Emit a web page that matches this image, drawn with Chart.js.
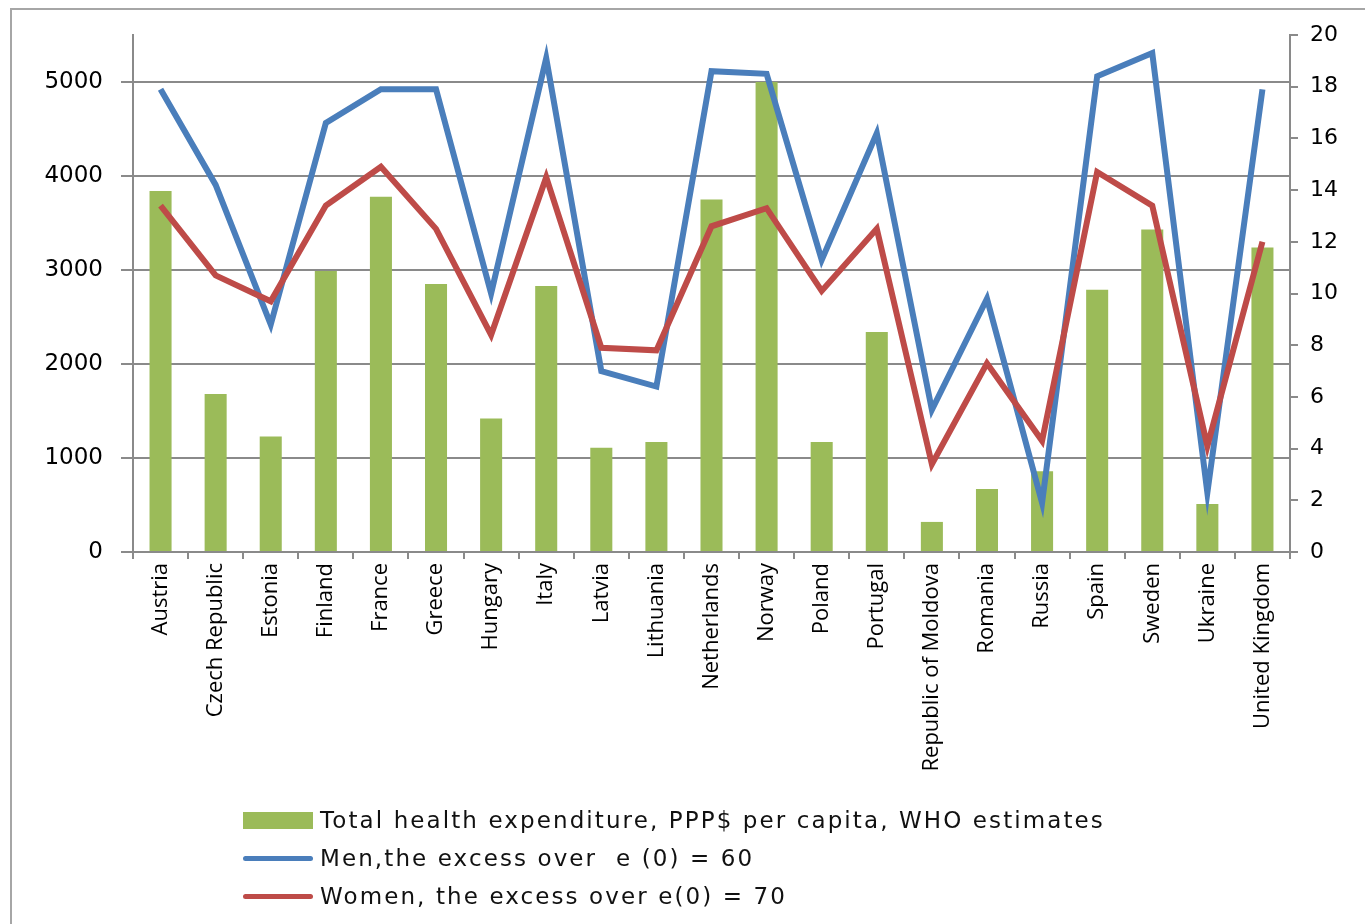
<!DOCTYPE html>
<html>
<head>
<meta charset="utf-8">
<script src="https://cdn.jsdelivr.net/npm/chart.js@4/dist/chart.umd.min.js"></script>
<style>
  html, body { margin: 0; padding: 0; background: #fff; }
  #frame { position: absolute; left: 10px; top: 8px; width: 1400px; height: 1000px; border: 2px solid #a6a6a6; box-sizing: border-box; }
  #wrap { position: absolute; left: 0; top: 0; width: 1365px; height: 924px; }
  #legend { position: absolute; left: 243px; top: 801px; font-family: "DejaVu Sans", sans-serif; font-size: 23px; letter-spacing: 2.1px; color: #111; }
  .item { display: flex; align-items: center; height: 38px; }
  .sw { width: 70px; margin-right: 7px; }
</style>
</head>
<body>
<div id="frame"></div>
<div id="wrap"><canvas id="chart" width="1365" height="924"></canvas></div>
<div id="legend"></div>
<script>
const countries = ['Austria', 'Czech Republic', 'Estonia', 'Finland', 'France', 'Greece', 'Hungary', 'Italy', 'Latvia', 'Lithuania',
    'Netherlands', 'Norway', 'Poland', 'Portugal', 'Republic of Moldova', 'Romania', 'Russia', 'Spain', 'Sweden', 'Ukraine', 'United Kingdom'];

// left axis, PPP$ per capita
const healthExpenditure = [3840, 1680, 1230, 2990, 3780, 2850, 1420, 2830, 1110, 1170,
    3750, 5000, 1170, 2340, 320, 670, 860, 2790, 3430, 510, 3240];

// right axis, years
const menExcess = [17.9, 14.2, 8.8, 16.6, 17.9, 17.9, 10.0, 19.1, 7.0, 6.4,
    18.6, 18.5, 11.3, 16.2, 5.5, 9.8, 1.9, 18.4, 19.3, 2.3, 17.9];
const womenExcess = [13.4, 10.7, 9.7, 13.4, 14.9, 12.5, 8.4, 14.5, 7.9, 7.8,
    12.6, 13.3, 10.1, 12.5, 3.4, 7.3, 4.3, 14.7, 13.4, 4.1, 12.0];

const leftTicks = [0, 1000, 2000, 3000, 4000, 5000];

const axisGray = '#8a8a8a';

const ctx = document.getElementById('chart').getContext('2d');
const chart = new Chart(ctx, {
    type: 'bar',
    data: {
        labels: countries,
        datasets: [
            {
                type: 'bar',
                label: 'Total health expenditure, PPP$ per capita, WHO estimates',
                data: healthExpenditure,
                backgroundColor: '#9bbb59',
                yAxisID: 'y',
                barPercentage: 0.4,
                categoryPercentage: 1,
                order: 3
            },
            {
                type: 'line',
                label: 'Men,the excess over  e (0) = 60',
                data: menExcess,
                borderColor: '#4a7ebb',
                borderWidth: 6,
                pointRadius: 0,
                tension: 0,
                yAxisID: 'y2',
                order: 2
            },
            {
                type: 'line',
                label: 'Women, the excess over e(0) = 70',
                data: womenExcess,
                borderColor: '#be4b48',
                borderWidth: 6,
                pointRadius: 0,
                tension: 0,
                yAxisID: 'y2',
                order: 1
            }
        ]
    },
    options: {
        responsive: false,
        animation: false,
        layout: { padding: { top: 35, left: 0, right: 0, bottom: 0 } },
        plugins: { legend: { display: false }, tooltip: { enabled: false } },
        scales: {
            x: {
                grid: { drawOnChartArea: false, offset: true, tickLength: 7, color: axisGray, lineWidth: 2 },
                border: { color: axisGray, width: 2 },
                ticks: {
                    minRotation: 90, maxRotation: 90, autoSkip: false, padding: 4,
                    color: '#000',
                    font: { family: '"Liberation Sans Narrow", "Open Sans", sans-serif', size: 22 }
                },
                afterFit: s => { s.height = 372; }
            },
            y: {
                position: 'left',
                min: 0, max: 5500,
                afterBuildTicks: s => { s.ticks = leftTicks.map(v => ({ value: v })); },
                grid: { color: axisGray, lineWidth: 2, tickLength: 12 },
                border: { color: axisGray, width: 2 },
                ticks: {
                    color: '#000', padding: 18,
                    font: { family: '"DejaVu Sans", sans-serif', size: 23 },
                    callback: v => String(v)
                },
                afterFit: s => { s.width = 133; }
            },
            y2: {
                position: 'right',
                min: 0, max: 20,
                ticks: { stepSize: 2, color: '#000', padding: 12, font: { family: '"DejaVu Sans", sans-serif', size: 22 } },
                grid: { drawOnChartArea: false, color: axisGray, lineWidth: 2, tickLength: 8 },
                border: { color: axisGray, width: 2 },
                afterFit: s => { s.width = 75; }
            }
        }
    }
});

// legend in a column under the plot
const legend = document.getElementById('legend');
chart.data.datasets.forEach(ds => {
    const item = document.createElement('div');
    item.className = 'item';
    const sw = document.createElement('div');
    sw.className = 'sw';
    if (ds.type === 'bar') {
        sw.style.height = '17px';
        sw.style.background = ds.backgroundColor;
    } else {
        sw.style.height = '5px';
        sw.style.borderRadius = '3px';
        sw.style.background = ds.borderColor;
    }
    const txt = document.createElement('span');
    txt.textContent = ds.label;
    txt.style.whiteSpace = 'pre';
    item.appendChild(sw);
    item.appendChild(txt);
    legend.appendChild(item);
});
</script>
</body>
</html>
